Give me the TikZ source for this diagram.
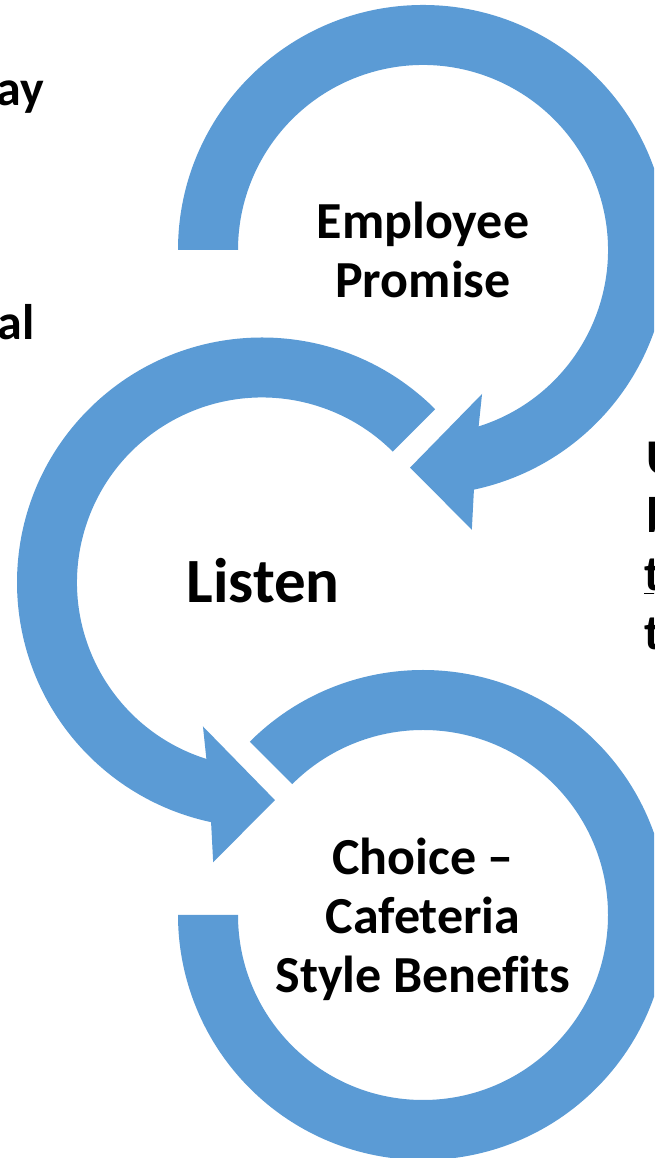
\documentclass[tikz,border=0pt]{standalone}
\usepackage{fontspec}
\setmainfont{Carlito}[Ligatures=NoCommon]
\definecolor{ringblue}{HTML}{5B9BD5}
\newcommand{\centredlines}[1]{\vtop{\halign{\hfil##\hfil\cr#1\crcr}}}
\begin{document}
\begin{tikzpicture}[x=1pt,y=1pt,
  ring/.style={fill=ringblue},
  label/.style={inner sep=0pt,font=\bfseries\fontsize{52}{59}\selectfont},
  biglabel/.style={inner sep=0pt,font=\bfseries\fontsize{63}{70}\selectfont},
  edgetext/.style={inner sep=0pt,font=\bfseries\fontsize{50}{58}\selectfont}]
\useasboundingbox (0,0) rectangle (654,1158);
\clip (0,0) rectangle (654,1158);

% upper ring: clockwise from the left, arrowhead at lower left
\begin{scope}[shift={(423,908)}]
  \fill[ring] (180:245) arc[start angle=180, end angle=-78, radius=245]
    -- (-80.1:284) -- (-93.4:218) -- (-67.7:155.6)
    -- (-72.5:185) arc[start angle=-72.5, end angle=180, radius=185] -- cycle;
\end{scope}

% middle ring: counter-clockwise from upper right, arrowhead at bottom
\begin{scope}[shift={(262,575.5)}]
  \fill[ring] (45:245) arc[start angle=45, end angle=258, radius=245]
    -- (260.1:284) -- (273.4:218) -- (247.7:155.6)
    -- (252.5:185) arc[start angle=252.5, end angle=45, radius=185] -- cycle;
\end{scope}

% lower ring: open between upper left and left
\begin{scope}[shift={(423,243)}]
  \fill[ring] (135:245) arc[start angle=135, end angle=-180, radius=245]
    -- (180:185) arc[start angle=-180, end angle=135, radius=185] -- cycle;
\end{scope}

% ring labels
\node[label, anchor=base] (promise) at (423,919) {\centredlines{Employee\cr Promise}};
\node[biglabel, anchor=base] (listen) at (263,555) {Listen};
\node[label, anchor=base] (choice) at (423,283) {\centredlines{Choice --\cr Cafeteria\cr Style Benefits}};

% text running off the left edge
\node[edgetext, anchor=base east] (leftA) at (44,1052) {ay};
\node[edgetext, anchor=base east] (leftB) at (35,818) {al};

% text running off the right edge
\node[edgetext, anchor=base west] (rightA) at (646,683) {U};
\node[edgetext, anchor=base west] (rightB) at (646,625) {b};
\node[edgetext, anchor=base west] (rightC) at (644,567) {\underline{t}};
\node[edgetext, anchor=base west] (rightD) at (644,508) {t};
\end{tikzpicture}
\end{document}
